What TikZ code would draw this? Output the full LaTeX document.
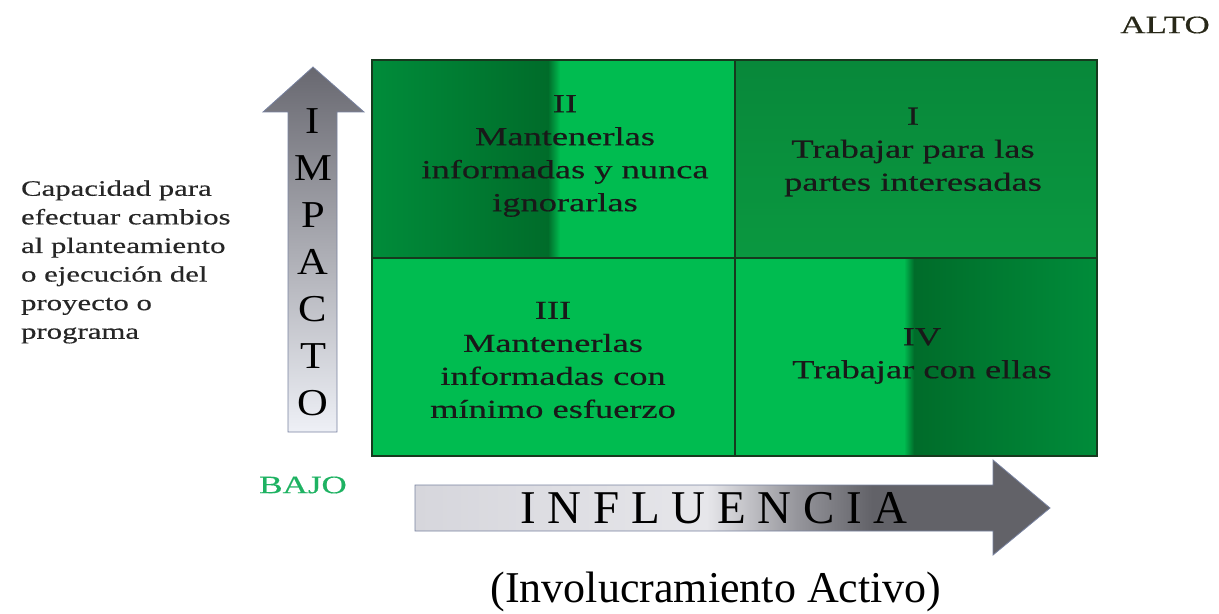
\documentclass[tikz,border=0pt]{standalone}
\usepackage{fontspec}
\setmainfont{Liberation Serif}
\newfontfamily\widefont[FakeStretch=1.4,FakeBold=0.4]{Liberation Serif}
\newfontfamily\axisfont[FakeStretch=1.12]{Liberation Serif}
\usetikzlibrary{positioning}
\definecolor{brightgreen}{RGB}{0,188,80}
\definecolor{darkgreen}{RGB}{0,108,42}
\definecolor{midgreen}{RGB}{0,140,58}
\definecolor{quadone}{RGB}{8,136,58}
\definecolor{quadonelow}{RGB}{10,152,64}
\definecolor{gridline}{RGB}{22,58,30}
\definecolor{arrowedge}{RGB}{120,130,160}
\definecolor{arrdark}{RGB}{104,104,112}
\definecolor{arrmid}{RGB}{200,202,208}
\definecolor{arrlight}{RGB}{238,240,246}
\definecolor{hlight}{RGB}{214,214,220}
\definecolor{hwhite}{RGB}{230,230,234}
\definecolor{hmid}{RGB}{150,150,156}
\definecolor{hdark}{RGB}{98,98,104}
\definecolor{bajogreen}{RGB}{30,178,98}
\definecolor{altotext}{RGB}{40,40,24}
\pgfdeclarehorizontalshading{influshade}{100bp}{color(0bp)=(hlight); color(25bp)=(hlight); color(48bp)=(hwhite); color(55bp)=(hmid); color(61bp)=(hdark); color(100bp)=(hdark)}

\begin{document}
\begin{tikzpicture}[x=0.5pt, y=-0.5pt,
  quadtext/.style={align=center, font=\widefont\fontsize{13}{16.5}\selectfont, text=black!90},
  sidetext/.style={align=left, font=\widefont\fontsize{11}{14.3}\selectfont, text=black!85},
  endlabel/.style={font=\widefont\fontsize{12.5}{14}\selectfont},
  arrowshape/.style={draw=arrowedge, line width=0.4pt}
]
\useasboundingbox (0,0) rectangle (1219,614);

% quadrants
\fill[brightgreen] (372,60) rectangle (1097,456);
\shade[left color=midgreen, right color=darkgreen] (372,60) rectangle (548,258);
\shade[left color=darkgreen, right color=brightgreen] (548,60) rectangle (560,258);
\shade[top color=quadone, bottom color=quadonelow] (735,60) rectangle (1097,258);
\shade[left color=brightgreen, right color=darkgreen] (904,258) rectangle (914,456);
\shade[left color=darkgreen, right color=midgreen] (914,258) rectangle (1097,456);
\draw[gridline, line width=0.9pt] (372,60) rectangle (1097,456);
\draw[gridline, line width=0.9pt] (735,60) -- (735,456);
\draw[gridline, line width=0.9pt] (372,258) -- (1097,258);

\node[quadtext] (quadII)  at (565,156) {II\\Mantenerlas\\informadas y nunca\\ignorarlas};
\node[quadtext] (quadI)   at (913,152) {I\\Trabajar para las\\partes interesadas};
\node[quadtext] (quadIII) at (553,360) {III\\Mantenerlas\\informadas con\\mínimo esfuerzo};
\node[quadtext] (quadIV)  at (922,356) {IV\\Trabajar con ellas};

% vertical arrow
\shade[arrowshape, top color=arrdark, middle color=arrmid, bottom color=arrlight]
  (288,432) -- (288,112) -- (263,112) -- (313,67) -- (364,112) -- (337,112) -- (337,432) -- cycle;
\node[align=center, font=\axisfont\fontsize{19}{23.5}\selectfont] (impacto) at (313,262)
  {I\\M\\P\\A\\C\\T\\O};

% horizontal arrow
\shade[arrowshape, shading=influshade]
  (415,485) -- (993,485) -- (993,460) -- (1050,508) -- (993,555) -- (993,531) -- (415,531) -- cycle;
\node[font=\fontsize{23.5}{26}\selectfont] (influencia) at (714,508) {I N F L U E N C I A};

\node[font=\fontsize{22}{26}\selectfont] (activo) at (716,592) {(Involucramiento Activo)};

\node[sidetext, anchor=west] (capacidad) at (14,262)
  {Capacidad para\\efectuar cambios\\al planteamiento\\o ejecución del\\proyecto o\\programa};

\node[endlabel, text=altotext] (alto) at (1165,25) {ALTO};
\node[endlabel, text=bajogreen] (bajo) at (303,485) {BAJO};
\end{tikzpicture}
\end{document}
